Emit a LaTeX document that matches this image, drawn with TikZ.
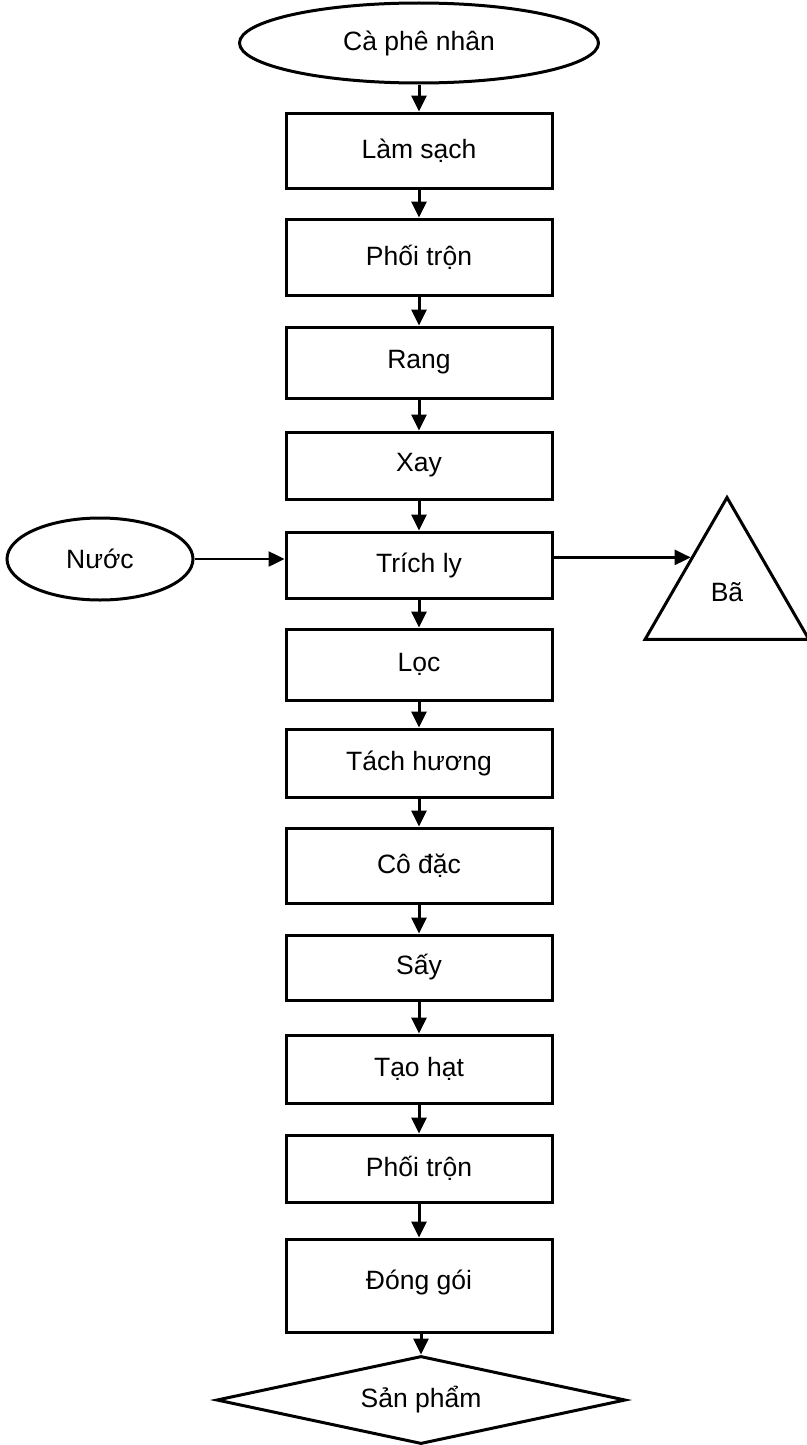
\documentclass[tikz,border=0pt]{standalone}
\usepackage{fontspec}
\setmainfont{Liberation Sans}
\usetikzlibrary{arrows.meta, shapes.geometric, calc}

\begin{document}
\begin{tikzpicture}[
    x=1pt, y=-1pt,
    procbox/.style={draw, line width=3pt, minimum width=266pt, minimum height=#1,
                 inner sep=0pt, font=\fontsize{26.5}{31}\selectfont},
    endpoint/.style={draw, line width=3pt, inner sep=0pt, font=\fontsize{26.5}{31}\selectfont},
    arr/.style={-{Triangle[length=16pt, width=15pt]}, line width=3pt},
    >=Triangle
  ]
  \useasboundingbox (0,0) rectangle (806,1445);

  \node[endpoint, ellipse, minimum width=359pt, minimum height=80pt] (cafe) at (419, 43) {Cà phê nhân};
  \node[procbox=75pt] (lamsach) at (419, 150.5) {Làm sạch};
  \node[procbox=76pt] (phoitron) at (419, 257) {Phối trộn};
  \node[procbox=71pt] (rang) at (419, 362.5) {Rang};
  \node[procbox=67pt] (xay) at (419, 465.5) {Xay};
  \node[procbox=66pt] (trichly) at (419, 565) {Trích ly};
  \node[procbox=71pt] (loc) at (419, 664.5) {Lọc};
  \node[procbox=68pt] (tachhuong) at (419, 763) {Tách hương};
  \node[procbox=75pt] (codac) at (419, 865.5) {Cô đặc};
  \node[procbox=65pt] (say) at (419, 967.5) {Sấy};
  \node[procbox=68pt] (taohat) at (419, 1069) {Tạo hạt};
  \node[procbox=67pt] (phoitronb) at (419, 1168.5) {Phối trộn};
  \node[procbox=93pt] (donggoi) at (419, 1285.5) {\raisebox{12pt}{Đóng gói}};
  \node[endpoint, diamond, aspect=4.75, minimum width=409pt, minimum height=88pt] (sanpham) at (421, 1400) {Sản phẩm};

  \draw[arr] (cafe) -- (lamsach);
  \draw[arr] (lamsach) -- (phoitron);
  \draw[arr] (phoitron) -- (rang);
  \draw[arr] (rang) -- (xay);
  \draw[arr] (xay) -- (trichly);
  \draw[arr] (trichly) -- (loc);
  \draw[arr] (loc) -- (tachhuong);
  \draw[arr] (tachhuong) -- (codac);
  \draw[arr] (codac) -- (say);
  \draw[arr] (say) -- (taohat);
  \draw[arr] (taohat) -- (phoitronb);
  \draw[arr] (phoitronb) -- (donggoi);
  \draw[arr] (donggoi.south -| sanpham) -- (sanpham);

  % water in, spent grounds out
  \node[endpoint, ellipse, minimum width=186pt, minimum height=82pt] (nuoc) at (100, 559) {Nước};
  \node[endpoint, regular polygon, regular polygon sides=3, minimum size=189pt] (ba) at (727, 592) {Bã};
  \coordinate (baside) at ($(ba.corner 1)!0.43!(ba.corner 2)$);
  \draw[arr, line width=2.5pt] (nuoc.east) -- (trichly.west |- nuoc.east);
  \draw[arr, line width=2.5pt] (trichly.east |- baside) -- (baside);

\end{tikzpicture}
\end{document}
